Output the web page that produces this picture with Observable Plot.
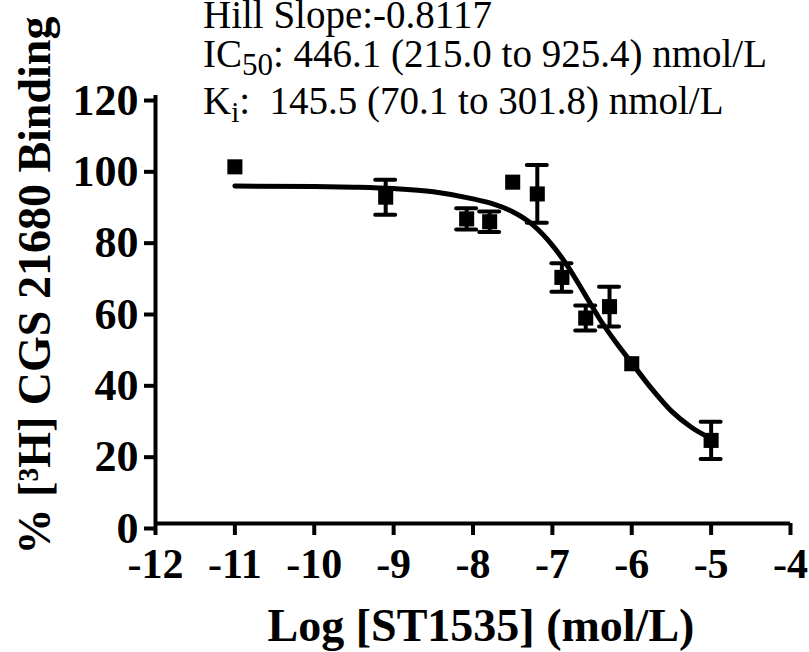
<!DOCTYPE html>
<html>
<head>
<meta charset="utf-8">
<script src="https://cdn.jsdelivr.net/npm/d3@7"></script>
<script src="https://cdn.jsdelivr.net/npm/@observablehq/plot@0.6"></script>
<style>
  html, body { margin: 0; padding: 0; background: #fff; }
  #chart { width: 809px; height: 652px; position: relative; }
</style>
</head>
<body>
<div id="chart"></div>
<script>
// Tick values
const xTicks = [-12, -11, -10, -9, -8, -7, -6, -5, -4];
const yTicks = [0, 20, 40, 60, 80, 100, 120];

// Measured points: log concentration, % binding, SEM
const logConc = [-11, -9.1, -8.08, -7.79, -7.5, -7.19, -6.88, -6.58, -6.28, -6.0, -5.0];
const binding = [100, 91.5, 85.4, 84.6, 95.7, 92.4, 69.0, 57.6, 60.8, 44.8, 23.3];
const sem     = [0, 4.9, 3.0, 2.9, 0, 8.1, 4.0, 3.5, 5.6, 0, 5.2];

// Fitted curve
const fitX = [-11, -10, -9.5, -9, -8.5, -8, -7.75, -7.5, -7.25, -7, -6.8, -6.6, -6.4, -6.2, -6, -5.75, -5.5, -5.25, -5];
const fitY = [94.6, 94.5, 94.3, 93.9, 93.0, 91.0, 89.6, 87.4, 83.8, 78.0, 71.9, 64.6, 57.2, 50.8, 45.0, 37.8, 31.5, 27.0, 23.8];

// Texts
const xTitle = "Log [ST1535] (mol/L)";
const yTitle = "% [\u00B3H] CGS 21680 Binding";
const hillText = "Hill Slope:-0.8117";
const ic50Value = ": 446.1 (215.0 to 925.4) nmol/L";
const kiValue = ":\u00A0 145.5 (70.1 to 301.8) nmol/L";

const points = logConc.map((x, i) => ({x, y: binding[i], e: sem[i]}));
const bars = points.filter(d => d.e > 0);
const caps = bars.flatMap(d => [{x: d.x, y: d.y + d.e}, {x: d.x, y: d.y - d.e}]);
const fit = fitX.map((x, i) => ({x, y: fitY[i]}));

const serif = "'Liberation Serif', 'Times New Roman', Times, serif";

const plot = Plot.plot({
  width: 809,
  height: 652,
  marginLeft: 155,
  marginRight: 19,
  marginTop: 95,
  marginBottom: 129,
  x: {domain: [-12, -4]},
  y: {domain: [0, 120]},
  style: {fontFamily: serif, fontSize: "42px", fontWeight: "bold", color: "black", background: "white", overflow: "visible"},
  marks: [
    Plot.axisX(xTicks, {tickSize: 12, tickPadding: 13, strokeWidth: 4, tickFormat: d => String(d), label: null, fontSize: 42}),
    Plot.axisY(yTicks, {tickSize: 11, tickPadding: 6, strokeWidth: 4, tickFormat: d => String(d), label: null, fontSize: 44, dy: 5}),
    Plot.ruleX([-12], {strokeWidth: 4}),
    Plot.ruleY([0], {strokeWidth: 4}),
    Plot.line(fit, {x: "x", y: "y", curve: "monotone-x", strokeWidth: 5, strokeLinecap: "round"}),
    Plot.ruleX(bars, {x: "x", y1: d => d.y - d.e, y2: d => d.y + d.e, strokeWidth: 4}),
    Plot.ruleY(caps, {x1: "x", x2: "x", y: "y", insetLeft: -10, insetRight: -10, strokeWidth: 4, strokeLinecap: "round"}),
    Plot.dot(points, {x: "x", y: "y", symbol: "square", r: 8.5, fill: "black", stroke: null}),
    Plot.text([xTitle], {frameAnchor: "bottom", textAnchor: "middle", lineAnchor: "bottom", dx: 8, dy: 117, fontSize: 46, fontWeight: "bold"}),
    Plot.text([yTitle], {frameAnchor: "left", textAnchor: "middle", lineAnchor: "bottom", rotate: -90, dx: -106, dy: -24, fontSize: 46, fontWeight: "bold"})
  ]
});

document.getElementById("chart").appendChild(plot);

// Annotation block at top
const svg = d3.select(plot);
const ann = svg.append("g")
  .attr("font-family", serif)
  .attr("font-weight", "normal")
  .attr("font-size", 39)
  .attr("text-anchor", "start")
  .attr("fill", "black");

ann.append("text").attr("x", 203).attr("y", 28).text(hillText);

const t2 = ann.append("text").attr("x", 203).attr("y", 67);
t2.append("tspan").text("IC");
t2.append("tspan").attr("font-size", 31).attr("dy", 8).text("50");
t2.append("tspan").attr("dy", -8).text(ic50Value);

const t3 = ann.append("text").attr("x", 203).attr("y", 114);
t3.append("tspan").text("K");
t3.append("tspan").attr("font-size", 29).attr("dy", 8).text("i");
t3.append("tspan").attr("dy", -8).text(kiValue);
</script>
</body>
</html>
